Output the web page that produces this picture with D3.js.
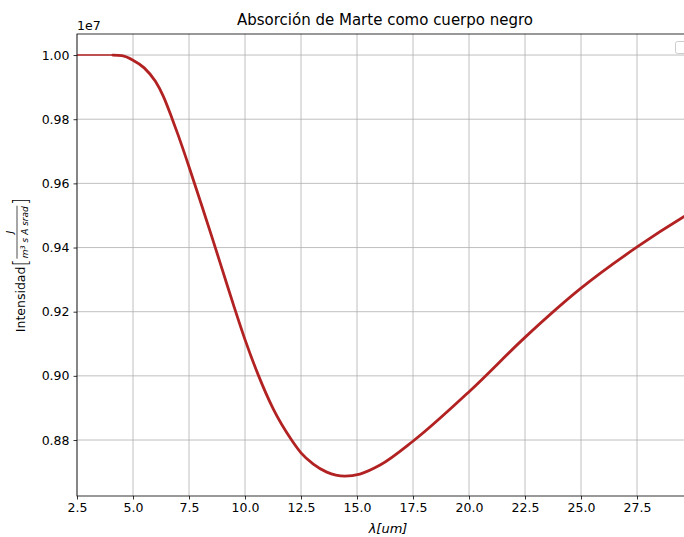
<!DOCTYPE html>
<html>
<head>
<meta charset="utf-8">
<script src="https://cdn.jsdelivr.net/npm/d3@7"></script>
<style>
  html, body { margin: 0; padding: 0; background: #fff; overflow: hidden; }
  svg { display: block; font-family: "DejaVu Sans", sans-serif; }
</style>
</head>
<body>
<svg id="chart" width="684" height="537"></svg>
<script>
// Wavelength in micrometres and blackbody-absorption intensity (J / m^3 s A srad)
const plateauWavelength = [2.5, 4.2];
const plateauIntensity = [1.0e7, 1.0e7];

const wavelength = [4.1, 4.5, 5.0, 5.5, 6.0, 6.35, 6.755, 7.0, 7.5, 8.0, 8.5, 9.0,
  9.5, 10.0, 10.59, 11.26, 12.08, 12.5, 13.05, 13.65, 14.46, 15.13, 16.03, 17.51,
  20.04, 22.5, 24.96, 27.49, 29.57, 30.0];
const intensity = [1.0000e7, 0.9998e7, 0.9984e7, 0.9960e7, 0.9918e7, 0.9872e7, 0.9800e7,
  0.97535e7, 0.9652e7, 0.95455e7, 0.9438e7, 0.9328e7, 0.9218e7, 0.9113e7,
  0.9003e7, 0.8897e7, 0.8800e7, 0.8760e7, 0.8725e7, 0.8700e7, 0.86875e7, 0.8694e7,
  0.8722e7, 0.8797e7, 0.8953e7, 0.9120e7, 0.9271e7, 0.9401e7, 0.9495e7, 0.9513e7];

const xTicks = [2.5, 5.0, 7.5, 10.0, 12.5, 15.0, 17.5, 20.0, 22.5, 25.0, 27.5];
const yTicks = [0.88e7, 0.90e7, 0.92e7, 0.94e7, 0.96e7, 0.98e7, 1.00e7];

const titleText = "Absorción de Marte como cuerpo negro";
const offsetText = "1e7";

const svg = d3.select("#chart");
const plotL = 77, plotR = 693, plotT = 34, plotB = 496;
const lineColor = "#b22222";
const gridColor = "#b0b0b0";
const fontSize = 12.5;

const x = d3.scaleLinear().domain([2.5, 30.0]).range([plotL, plotR]);
const y = d3.scaleLinear().domain([0.86255e7, 1.00656e7]).range([plotB, plotT]);

// grid
const grid = svg.append("g");
grid.selectAll("line.vx").data(xTicks).join("line")
  .attr("x1", d => x(d)).attr("x2", d => x(d))
  .attr("y1", plotT).attr("y2", plotB)
  .attr("stroke", gridColor).attr("stroke-width", 0.8);
grid.selectAll("line.hy").data(yTicks).join("line")
  .attr("x1", plotL).attr("x2", plotR)
  .attr("y1", d => y(d)).attr("y2", d => y(d))
  .attr("stroke", gridColor).attr("stroke-width", 0.8);

// curves
const line = d3.line().x(d => x(d[0])).y(d => y(d[1]));
svg.append("path")
  .datum(d3.zip(plateauWavelength, plateauIntensity))
  .attr("d", line)
  .attr("fill", "none").attr("stroke", lineColor).attr("stroke-width", 1.5);

svg.append("path")
  .datum(d3.zip(wavelength, intensity))
  .attr("d", line.curve(d3.curveMonotoneX))
  .attr("fill", "none").attr("stroke", lineColor).attr("stroke-width", 2.8)
  .attr("stroke-linecap", "round");

// axes
const xAxis = d3.axisBottom(x).tickValues(xTicks).tickFormat(d3.format(".1f"))
  .tickSize(3.5).tickPadding(4);
const yAxis = d3.axisLeft(y).tickValues(yTicks).tickFormat(d => (d / 1e7).toFixed(2))
  .tickSize(3.5).tickPadding(4);

const gx = svg.append("g").attr("transform", `translate(0,${plotB})`).call(xAxis);
const gy = svg.append("g").attr("transform", `translate(${plotL},0)`).call(yAxis);
[gx, gy].forEach(g => {
  g.select(".domain").remove();
  g.selectAll(".tick line").attr("stroke", "#000").attr("stroke-width", 0.8);
  g.selectAll(".tick text").attr("fill", "#000")
    .style("font-size", fontSize + "px").style("font-family", "DejaVu Sans");
});
gx.selectAll(".tick text").attr("dy", "0.71em");

// spines
svg.append("rect")
  .attr("x", plotL).attr("y", plotT).attr("width", plotR - plotL).attr("height", plotB - plotT)
  .attr("fill", "none").attr("stroke", "#000").attr("stroke-width", 0.8);

// empty legend frame
svg.append("rect")
  .attr("x", 675.5).attr("y", 41.5).attr("width", 24).attr("height", 12).attr("rx", 2)
  .attr("fill", "#fff").attr("fill-opacity", 0.8)
  .attr("stroke", "#cccccc").attr("stroke-width", 1);

// title and offset
svg.append("text").attr("x", (plotL + plotR) / 2).attr("y", 25)
  .attr("text-anchor", "middle").style("font-size", "15px").attr("fill", "#000")
  .text(titleText);
svg.append("text").attr("x", plotL).attr("y", 30)
  .style("font-size", fontSize + "px").attr("fill", "#000")
  .text(offsetText);

// x label
const xl = svg.append("text").attr("x", 388).attr("y", 533)
  .attr("text-anchor", "middle").style("font-size", "13px").attr("fill", "#000")
  .style("font-style", "italic");
xl.append("tspan").text("λ[um]");

// y label with fraction
const yl = svg.append("g").attr("transform", "translate(25,265) rotate(-90)");
const parts = yl.append("g");
let u = 0;
const t1 = parts.append("text").attr("x", u).attr("y", 0)
  .style("font-size", fontSize + "px").attr("fill", "#000").text("Intensidad ");
u += t1.node().getComputedTextLength();
const lb = parts.append("text").attr("x", u).attr("y", 2)
  .style("font-size", "19px").style("font-weight", "200").attr("fill", "#000").text("[");
u += lb.node().getComputedTextLength() + 1;
const den = parts.append("text").attr("y", 3)
  .style("font-size", "9px").style("font-style", "italic").attr("fill", "#000");
den.append("tspan").text("m");
den.append("tspan").attr("dy", -3).style("font-size", "6.5px").text("3");
den.append("tspan").attr("dy", 3).text(" s A srad");
const denW = den.node().getComputedTextLength();
den.attr("x", u);
parts.append("line").attr("x1", u - 0.5).attr("x2", u + denW + 0.5)
  .attr("y1", -8).attr("y2", -8).attr("stroke", "#000").attr("stroke-width", 0.7);
parts.append("text").attr("x", u + denW / 2).attr("y", -12)
  .attr("text-anchor", "middle").style("font-size", "9px").style("font-style", "italic")
  .attr("fill", "#000").text("J");
u += denW + 1;
const rb = parts.append("text").attr("x", u).attr("y", 2)
  .style("font-size", "19px").style("font-weight", "200").attr("fill", "#000").text("]");
u += rb.node().getComputedTextLength();
parts.attr("transform", `translate(${-u / 2},0)`);
</script>
</body>
</html>
